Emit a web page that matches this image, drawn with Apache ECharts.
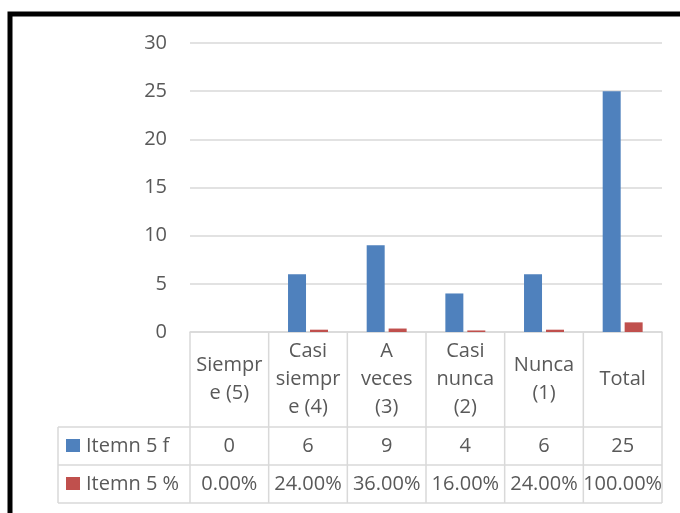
<!DOCTYPE html>
<html>
<head>
<meta charset="utf-8">
<script src="https://cdn.jsdelivr.net/npm/echarts@6/dist/echarts.min.js"></script>
<style>
  html, body { margin: 0; padding: 0; background: #fff; }
  #chart { width: 680px; height: 513px; }
</style>
</head>
<body>
<div id="chart"></div>
<script>
// Category headers (already wrapped as in the data table)
const categories = ['Siempr\ne (5)', 'Casi\nsiempr\ne (4)', 'A\nveces\n(3)', 'Casi\nnunca\n(2)', 'Nunca\n(1)', 'Total'];
// Frequencies
const seriesFName = 'Itemn 5 f';
const freqValues = [0, 6, 9, 4, 6, 25];
// Shares (fractions of the total)
const seriesPName = 'Itemn 5 %';
const pctValues = [0, 0.24, 0.36, 0.16, 0.24, 1.0];
// Y-axis ticks
const yMin = 0, yMax = 30, yStep = 5;

const FONT = '"Open Sans", sans-serif';
const FS = 20;
const TEXT = '#595959';
const LINE = '#d9d9d9';
const BLUE = '#4F81BD';
const RED = '#C0504D';

const chart = echarts.init(document.getElementById('chart'), null, { renderer: 'canvas' });

const GRID = { left: 190, right: 18, top: 43, bottom: 181 };
chart.setOption({
  animation: false,
  backgroundColor: '#fff',
  grid: GRID,
  xAxis: {
    type: 'category',
    data: categories,
    axisLine: { show: true, lineStyle: { color: LINE, width: 1.5 } },
    axisTick: { show: false },
    axisLabel: { show: false }
  },
  yAxis: {
    type: 'value',
    min: yMin, max: yMax, interval: yStep,
    axisLine: { show: false },
    axisTick: { show: false },
    axisLabel: { color: TEXT, fontFamily: FONT, fontSize: FS, margin: 23 },
    splitLine: { lineStyle: { color: LINE, width: 1.5 } }
  },
  series: [
    { name: seriesFName, type: 'bar', data: freqValues, barWidth: 18, barGap: '22%', itemStyle: { color: BLUE } },
    { name: seriesPName, type: 'bar', data: pctValues, barWidth: 18, itemStyle: { color: RED } }
  ]
});

// Data table under the plot, aligned to the category bands
function fmtPct(v) { return (v * 100).toFixed(2) + '%'; }
const axisY = chart.convertToPixel({ yAxisIndex: 0 }, 0);
const c0 = chart.convertToPixel({ xAxisIndex: 0 }, 0);
const c1 = chart.convertToPixel({ xAxisIndex: 0 }, 1);
const band = c1 - c0;
const left = c0 - band / 2;
const right = left + band * categories.length;
const headH = 95, rowH = 38;
const r1 = axisY + headH, r2 = r1 + rowH, r3 = r2 + rowH;
const legendLeft = 58;

const g = [];
const line = (x1, y1, x2, y2) => g.push({ type: 'line', shape: { x1, y1, x2, y2 }, style: { stroke: LINE, lineWidth: 1.5 }, silent: true });
const text = (x, y, s, align) => g.push({ type: 'text', x, y, style: { text: s, fill: TEXT, font: FS + 'px ' + FONT, align: align || 'center', verticalAlign: 'middle', lineHeight: 28 }, silent: true });

// grid lines of the table
line(legendLeft, r1, right, r1);
line(legendLeft, r2, right, r2);
line(legendLeft, r3, right, r3);
line(legendLeft, r1, legendLeft, r3);
for (let i = 0; i <= categories.length; i++) {
  const x = left + band * i;
  line(x, axisY, x, r3);
}
// cell contents
categories.forEach((c, i) => {
  const cx = left + band * (i + 0.5);
  text(cx, (axisY + r1) / 2, c);
  text(cx, (r1 + r2) / 2, String(freqValues[i]));
  text(cx, (r2 + r3) / 2, fmtPct(pctValues[i]));
});
// legend keys in the first column
[[seriesFName, BLUE, (r1 + r2) / 2], [seriesPName, RED, (r2 + r3) / 2]].forEach(([name, col, cy]) => {
  g.push({ type: 'rect', shape: { x: legendLeft + 8, y: cy - 7, width: 14, height: 13 }, style: { fill: col }, silent: true });
  text(legendLeft + 28, cy, name, 'left');
});
// outer frame
g.push({ type: 'rect', shape: { x: 10, y: 14, width: 700, height: 540 }, style: { fill: 'none', stroke: '#000', lineWidth: 5 }, silent: true });

chart.setOption({ graphic: g });
</script>
</body>
</html>
